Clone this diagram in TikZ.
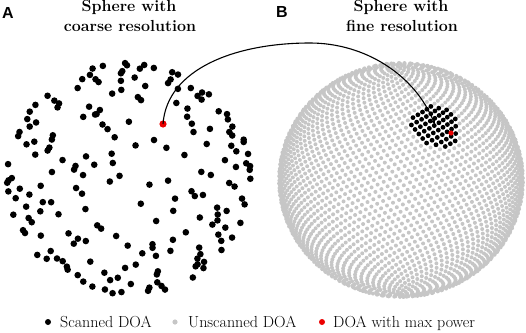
\documentclass[tikz,border=0pt]{standalone}
\usepackage{fontspec}
\newfontfamily\labfont{Liberation Sans}
\usetikzlibrary{arrows.meta}
\definecolor{dotgray}{RGB}{198,198,198}
\definecolor{dotred}{RGB}{235,0,0}
\tikzset{
  title/.style={anchor=base, inner sep=0pt, font=\bfseries\fontsize{16}{19}\selectfont},
  legtext/.style={anchor=base west, inner sep=0pt, font=\fontsize{16}{19}\selectfont},
  panel/.style={anchor=base west, inner sep=0pt, font=\labfont\bfseries\fontsize{16}{19}\selectfont},
  coarsedot/.style={fill=black},
}
\begin{document}
\begin{tikzpicture}[x=1pt,y=-1pt]
\useasboundingbox (0,0) rectangle (526,332);
% ---------- panel A : coarse sphere ----------
\pgfmathsetseed{5}
\xdef\ph{0}
\foreach \i in {0,...,399}{
  \pgfmathsetmacro\z{max(-0.999,min(0.999,1-(2*\i+1)/400+0.01*rand))}
  \pgfmathsetmacro\r{sqrt(1-\z*\z)}
  \pgfmathsetmacro\nph{mod(\ph+137.50776,360)}
  \xdef\ph{\nph}
  \pgfmathsetmacro\a{\ph+28*rand}
  \pgfmathsetmacro\dep{\r*sin(\a)}
  \ifdim\dep pt>0.03pt
    \pgfmathsetmacro\sx{129+122*\r*cos(\a)}
    \pgfmathsetmacro\sy{179-116*\z}
    \fill[coarsedot] (\sx,\sy) circle[radius=3.3pt];
  \fi
}
% ---------- panel B : fine sphere ----------
\xdef\ph{0}
\foreach \i in {0,...,4599}{
  \pgfmathsetmacro\z{1-(2*\i+1)/4600}
  \pgfmathsetmacro\r{sqrt(1-\z*\z)}
  \pgfmathsetmacro\nph{mod(\ph+137.50776,360)}
  \xdef\ph{\nph}
  \pgfmathsetmacro\dep{\r*sin(\ph)}
  \ifdim\dep pt>0pt
    \pgfmathsetmacro\hx{\r*cos(\ph)}
    \pgfmathsetmacro\sx{401+122*\hx}
    \pgfmathsetmacro\sy{180-117*\z}
    \pgfmathsetmacro\dd{\hx*0.29+\dep*0.837+\z*0.465}
    \ifdim\dd pt>0.9785pt
      \fill[black] (\sx,\sy) circle[radius=2.4pt];
    \else
      \fill[dotgray] (\sx,\sy) circle[radius=2.0pt];
    \fi
  \fi
}
% ---------- points of max power ----------
\coordinate (src) at (163,124);
\coordinate (peak) at (310,43);
\coordinate (dst) at (435,125);
\coordinate (maxB) at (451,133);
\fill[dotred] (src) circle[radius=3.6pt];
\fill[dotred] (maxB) circle[radius=2.6pt];
% ---------- arrow ----------
\draw[line width=1.1pt,-{Stealth[length=6pt,width=4.5pt]}]
  (src) .. controls +(4,-55) and +(-75,0) .. (peak)
        .. controls +(55,0) and +(-20,-50) .. (dst);
% ---------- labels ----------
\node[panel] (lA) at (2,18) {A};
\node[panel] (lB) at (276,17) {B};
\node[title] (tA1) at (129,12) {Sphere with};
\node[title] (tA2) at (130,31) {coarse resolution};
\node[title] (tB1) at (401,12) {Sphere with};
\node[title] (tB2) at (402,31) {fine resolution};
% ---------- legend ----------
\fill[black] (48,322) circle[radius=3pt];
\node[legtext] (l1) at (60,327) {Scanned DOA};
\fill[dotgray] (175,322) circle[radius=2.6pt];
\node[legtext] (l2) at (188,327) {Unscanned DOA};
\fill[dotred] (322,322) circle[radius=3pt];
\node[legtext] (l3) at (333,327) {DOA with max power};
\end{tikzpicture}
\end{document}
